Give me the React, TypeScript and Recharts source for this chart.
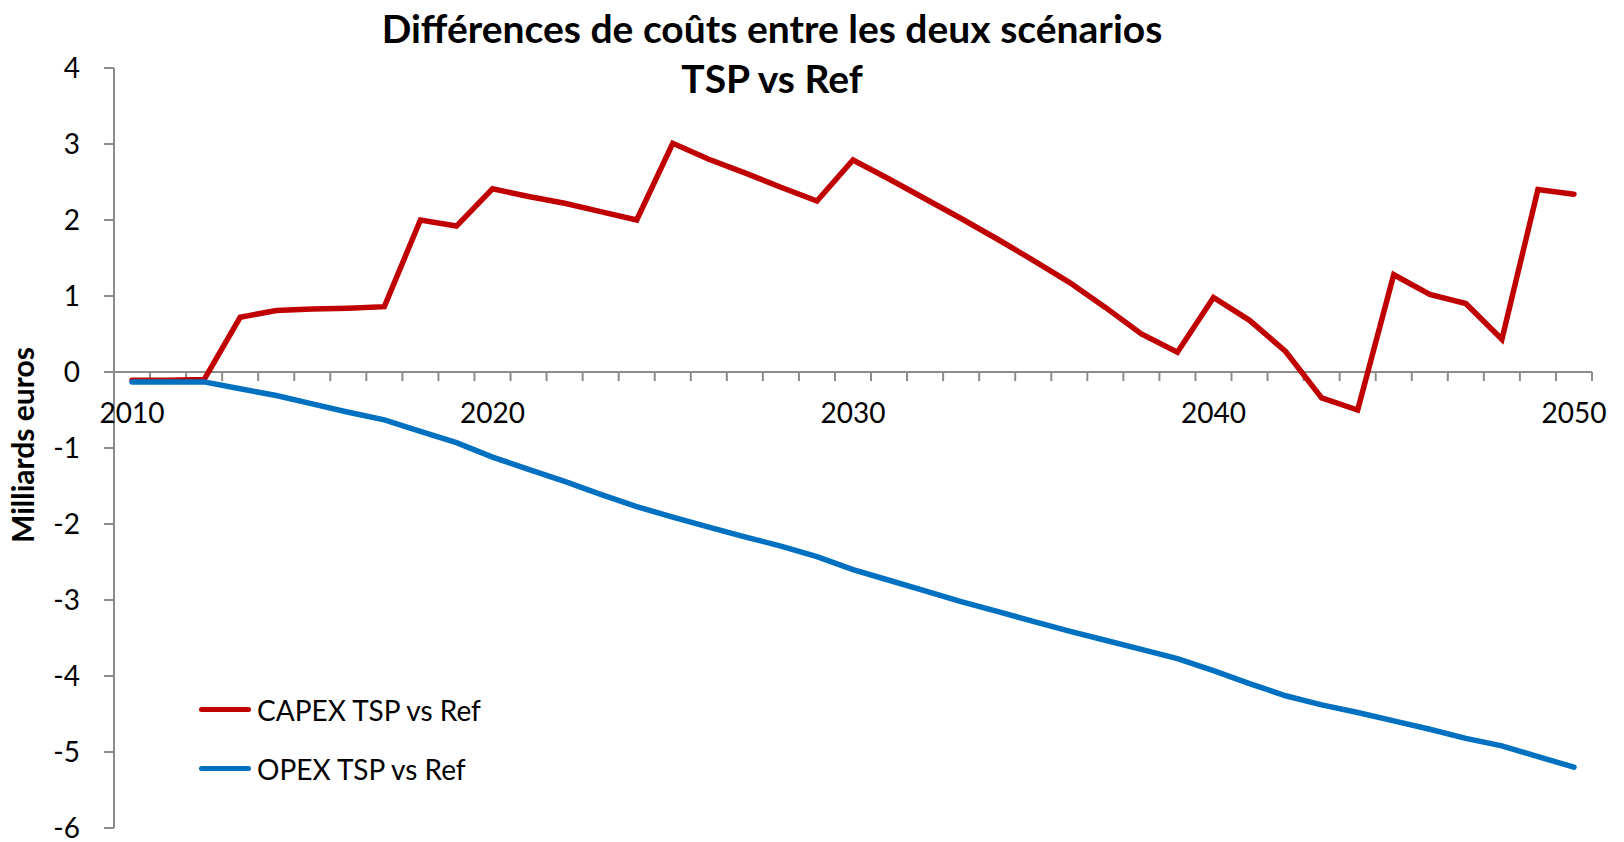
import { LineChart, Line, XAxis, YAxis, ReferenceLine, ReferenceDot, Legend } from 'recharts';

const years = [
  2010, 2011, 2012, 2013, 2014, 2015, 2016, 2017, 2018, 2019,
  2020, 2021, 2022, 2023, 2024, 2025, 2026, 2027, 2028, 2029,
  2030, 2031, 2032, 2033, 2034, 2035, 2036, 2037, 2038, 2039,
  2040, 2041, 2042, 2043, 2044, 2045, 2046, 2047, 2048, 2049, 2050,
];

const capex = [
  -0.11, -0.11, -0.1, 0.72, 0.81, 0.83, 0.84, 0.86, 2.0, 1.92,
  2.41, 2.31, 2.22, 2.11, 2.0, 3.01, 2.8, 2.62, 2.43, 2.25,
  2.79, 2.54, 2.28, 2.02, 1.75, 1.47, 1.18, 0.85, 0.5, 0.26,
  0.98, 0.68, 0.27, -0.34, -0.5, 1.28, 1.02, 0.9, 0.43, 2.4, 2.34,
];

const opex = [
  -0.13, -0.13, -0.13, -0.22, -0.31, -0.42, -0.53, -0.63, -0.78, -0.93,
  -1.12, -1.28, -1.44, -1.61, -1.77, -1.91, -2.04, -2.17, -2.29, -2.43,
  -2.6, -2.74, -2.88, -3.02, -3.15, -3.28, -3.41, -3.53, -3.65, -3.77,
  -3.93, -4.1, -4.26, -4.38, -4.48, -4.59, -4.7, -4.82, -4.92, -5.06, -5.2,
];

const yTicks = [-6, -5, -4, -3, -2, -1, 0, 1, 2, 3, 4];
const labelYears = [2010, 2020, 2030, 2040, 2050];
// category boundaries, where Excel puts the minor tick marks
const boundaries = [...years.map((y) => y - 0.5), 2050.5];

const data = years.map((year, i) => ({ year, capex: capex[i], opex: opex[i] }));

const FONT = "Lato, 'Open Sans', sans-serif";
const AXIS = '#8c8c8c';

function LegendBox(props: any) {
  const { payload } = props;
  return (
    <div>
      {payload.map((p: any) => (
        <div key={p.value} style={{ display: 'flex', alignItems: 'center', height: 59 }}>
          <div style={{ width: 52, height: 5, borderRadius: 3, background: p.color }} />
          <span style={{ marginLeft: 6, fontFamily: FONT, fontSize: 28, color: '#000' }}>{p.value}</span>
        </div>
      ))}
    </div>
  );
}

export default function App() {
  return (
    <div style={{ position: 'absolute', left: 0, top: 0, width: 1624, height: 842, background: '#fff' }}>
      <div
        style={{
          position: 'absolute', left: 0, top: 3, width: 1544, textAlign: 'center',
          fontFamily: FONT, fontWeight: 700, fontSize: 39, lineHeight: '50px', color: '#000', zIndex: 2,
        }}
      >
        <div>Différences de coûts entre les deux scénarios</div>
        <div>TSP vs Ref</div>
      </div>
      <LineChart width={1624} height={842} data={data} margin={{ top: 68, right: 32, bottom: 14, left: 0 }}>
        <XAxis type="number" dataKey="year" domain={[2009.5, 2050.5]} hide />
        <YAxis
          domain={[-6, 4]}
          ticks={yTicks}
          interval={0}
          width={114}
          axisLine={{ stroke: AXIS, strokeWidth: 2 }}
          tickLine={{ stroke: AXIS, strokeWidth: 2 }}
          tickSize={10}
          tickMargin={24}
          tick={{ fontFamily: FONT, fontSize: 28, fill: '#000' }}
          label={{
            content: (p: any) => {
              const vb = p.viewBox;
              const cx = vb.x + 22;
              const cy = vb.y + vb.height / 2 - 3;
              return (
                <text
                  x={cx} y={cy} transform={`rotate(-90, ${cx}, ${cy})`}
                  textAnchor="middle" dominantBaseline="central"
                  fontFamily={FONT} fontWeight={700} fontSize={30} fill="#000"
                >
                  Milliards euros
                </text>
              );
            },
          }}
        />
        <ReferenceLine y={0} stroke={AXIS} strokeWidth={2} ifOverflow="visible" />
        {boundaries.map((b) => (
          <ReferenceLine
            key={b}
            segment={[{ x: b, y: 0 }, { x: b, y: -0.12 }]}
            stroke={AXIS}
            strokeWidth={2}
            ifOverflow="visible"
          />
        ))}
        {labelYears.map((y) => (
          <ReferenceDot
            key={y}
            x={y}
            y={0}
            r={0}
            stroke="none"
            fill="none"
            ifOverflow="visible"
            label={{ value: String(y), position: 'bottom', offset: 31, fontFamily: FONT, fontSize: 28, fill: '#000' }}
          />
        ))}
        <Line
          dataKey="capex"
          name="CAPEX TSP vs Ref"
          stroke="#C00000"
          strokeWidth={5.5}
          strokeLinecap="round"
          dot={false}
          isAnimationActive={false}
        />
        <Line
          dataKey="opex"
          name="OPEX TSP vs Ref"
          stroke="#0070C0"
          strokeWidth={5.5}
          strokeLinecap="round"
          dot={false}
          isAnimationActive={false}
        />
        <Legend
          layout="vertical"
          align="center"
          verticalAlign="middle"
          content={<LegendBox />}
          wrapperStyle={{ left: 199, top: 680, width: 400 }}
        />
      </LineChart>
    </div>
  );
}
